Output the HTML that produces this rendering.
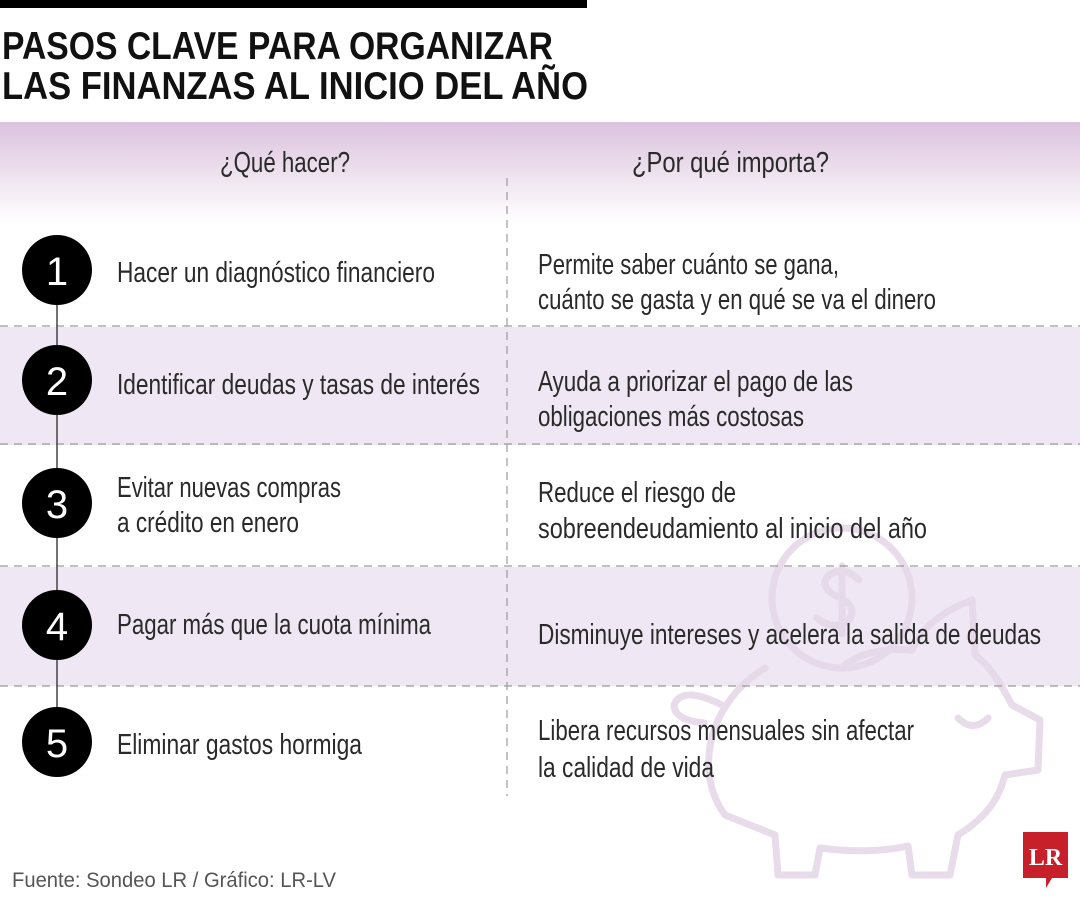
<!DOCTYPE html>
<html><head><meta charset="utf-8"><style>
html,body{margin:0;padding:0;background:#fff;}
svg{display:block;}
text{font-family:"Liberation Sans",sans-serif;}
.t{font-size:29px;fill:#2a2a2a;}
.n{font-size:40px;fill:#fff;text-anchor:middle;}
</style></head><body>
<svg width="1080" height="900" viewBox="0 0 1080 900" xmlns="http://www.w3.org/2000/svg">
<defs>
<linearGradient id="g" x1="0" y1="0" x2="0" y2="1">
<stop offset="0" stop-color="#dbc2dd"/><stop offset="1" stop-color="#ffffff"/>
</linearGradient>
</defs>
<rect x="0" y="0" width="587" height="8" fill="#000"/>
<text x="2" y="59" font-size="39" font-weight="bold" fill="#111" textLength="551" lengthAdjust="spacingAndGlyphs">PASOS CLAVE PARA ORGANIZAR</text>
<text x="2" y="99" font-size="39" font-weight="bold" fill="#111" textLength="586" lengthAdjust="spacingAndGlyphs">LAS FINANZAS AL INICIO DEL AÑO</text>
<rect x="0" y="122" width="1080" height="100" fill="url(#g)"/>
<rect x="0" y="327" width="1080" height="118" fill="#efe7f3"/>
<rect x="0" y="567" width="1080" height="119" fill="#efe7f3"/>
<!-- piggy bank -->
<g fill="none" stroke="#e6d8e8" stroke-width="7" stroke-linecap="round" stroke-linejoin="round" opacity="0.9">
<circle cx="842" cy="598" r="70"/>
<path d="M842 566 v68 M859 580 q-15 -15 -30 -5 q-10 10 5 20 q25 10 15 25 q-15 12 -32 -2"/>
<path d="M765 668 C705 705 695 775 725 815 L775 835 L778 875 L815 875 L820 848 C850 852 880 852 908 846 L912 875 L950 875 L958 835 C990 815 1000 795 1005 775 L1038 770 L1040 720 L1012 705 C998 678 985 662 975 655 L972 600 C940 612 920 630 912 650"/>
<path d="M912 650 C885 648 862 652 845 665"/>
<path d="M958 718 q15 15 30 0"/>
<path d="M722 705 q-40 -20 -48 0 q0 15 30 18"/>
</g>
<!-- dashed lines -->
<g stroke="#9a9a9a" stroke-width="1.2" stroke-dasharray="8 6" fill="none">
<line x1="0" y1="326" x2="1080" y2="326"/>
<line x1="0" y1="444" x2="1080" y2="444"/>
<line x1="0" y1="566" x2="1080" y2="566"/>
<line x1="0" y1="686" x2="1080" y2="686"/>
<line x1="507" y1="178" x2="507" y2="796"/>
</g>
<line x1="57" y1="270" x2="57" y2="743" stroke="#444" stroke-width="1.5"/>
<text x="220" y="172" class="t" fill="#222" textLength="130" lengthAdjust="spacingAndGlyphs">¿Qué hacer?</text>
<text x="632" y="172" class="t" textLength="197" lengthAdjust="spacingAndGlyphs">¿Por qué importa?</text>
<g>
<circle cx="57" cy="270" r="35" fill="#000"/><text x="57" y="285" class="n">1</text>
<circle cx="57" cy="380" r="35" fill="#000"/><text x="57" y="395" class="n">2</text>
<circle cx="57" cy="503" r="35" fill="#000"/><text x="57" y="518" class="n">3</text>
<circle cx="57" cy="625" r="35" fill="#000"/><text x="57" y="640" class="n">4</text>
<circle cx="57" cy="742" r="35" fill="#000"/><text x="57" y="757" class="n">5</text>
</g>
<g class="t">
<text x="117" y="282" class="t" textLength="318" lengthAdjust="spacingAndGlyphs">Hacer un diagnóstico financiero</text>
<text x="117" y="394" class="t" textLength="363" lengthAdjust="spacingAndGlyphs">Identificar deudas y tasas de interés</text>
<text x="117" y="497" class="t" textLength="224" lengthAdjust="spacingAndGlyphs">Evitar nuevas compras</text>
<text x="117" y="532" class="t" textLength="182" lengthAdjust="spacingAndGlyphs">a crédito en enero</text>
<text x="117" y="634" class="t" textLength="314" lengthAdjust="spacingAndGlyphs">Pagar más que la cuota mínima</text>
<text x="117" y="754" class="t" textLength="245" lengthAdjust="spacingAndGlyphs">Eliminar gastos hormiga</text>
<text x="538" y="274" class="t" textLength="301" lengthAdjust="spacingAndGlyphs">Permite saber cuánto se gana,</text>
<text x="538" y="309" class="t" textLength="398" lengthAdjust="spacingAndGlyphs">cuánto se gasta y en qué se va el dinero</text>
<text x="538" y="391" class="t" textLength="315" lengthAdjust="spacingAndGlyphs">Ayuda a priorizar el pago de las</text>
<text x="538" y="426" class="t" textLength="266" lengthAdjust="spacingAndGlyphs">obligaciones más costosas</text>
<text x="538" y="502" class="t" textLength="198" lengthAdjust="spacingAndGlyphs">Reduce el riesgo de</text>
<text x="538" y="538" class="t" textLength="389" lengthAdjust="spacingAndGlyphs">sobreendeudamiento al inicio del año</text>
<text x="538" y="644" class="t" textLength="503" lengthAdjust="spacingAndGlyphs">Disminuye intereses y acelera la salida de deudas</text>
<text x="538" y="740" class="t" textLength="376" lengthAdjust="spacingAndGlyphs">Libera recursos mensuales sin afectar</text>
<text x="538" y="777" class="t" textLength="176" lengthAdjust="spacingAndGlyphs">la calidad de vida</text>
</g>
<text x="12" y="887" font-size="21" fill="#555" textLength="324" lengthAdjust="spacingAndGlyphs">Fuente: Sondeo LR / Gráfico: LR-LV</text>
<path d="M1023 832 H1068 V878 H1052 L1046 888 V878 H1023 Z" fill="#c8202a"/>
<text x="1045.5" y="865" font-weight="bold" font-size="24" fill="#fff" text-anchor="middle" style="font-family:'Liberation Serif',serif">LR</text>
</svg>
</body></html>
